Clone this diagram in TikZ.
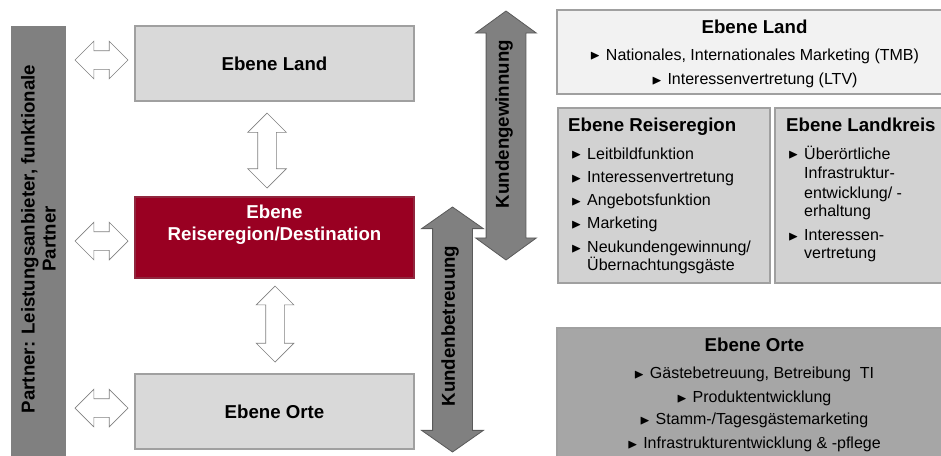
\documentclass[tikz,border=0pt]{standalone}
\usepackage{fontspec}
\setmainfont{Liberation Sans}
\usepackage{amssymb}
\usetikzlibrary{shapes.arrows,positioning}

\definecolor{ttred}{HTML}{990022}
\definecolor{ttlight}{HTML}{D9D9D9}
\definecolor{ttpale}{HTML}{F2F2F2}
\definecolor{ttmid}{HTML}{D2D2D2}
\definecolor{ttdark}{HTML}{A6A6A6}
\definecolor{ttgray}{HTML}{808080}
\definecolor{ttline}{HTML}{A0A0A0}
\definecolor{ttedge}{HTML}{5A5A5A}

\newcommand{\hdfont}{\fontsize{18.67}{21}\selectfont\bfseries}
\newcommand{\txfont}{\fontsize{16}{18.5}\selectfont}
\newcommand{\tri}{\makebox[16pt][l]{\raisebox{0.3pt}{\fontsize{13.5}{13.5}\selectfont$\blacktriangleright$}}}

\tikzset{level/.style={draw=ttline, line width=1.2pt, fill=ttlight, minimum width=279pt, minimum height=75pt, inner sep=0pt}}
\tikzset{panel/.style={draw=ttline, line width=1.2pt, inner sep=0pt}}
\tikzset{head/.style={font=\hdfont, align=center, inner sep=0pt}}
\tikzset{line/.style={font=\txfont, inner sep=0pt, anchor=base west}}
\tikzset{cline/.style={font=\txfont, inner sep=0pt, anchor=base}}
\tikzset{link/.style={double arrow, draw=gray, fill=white, line width=0.7pt, inner xsep=0pt, inner ysep=9pt, double arrow head extend=9.5pt, double arrow tip angle=90, minimum height=53pt, minimum width=37pt}}
\tikzset{flow/.style={double arrow, draw=ttedge, fill=ttgray, line width=0.8pt, inner xsep=0pt, inner ysep=19.5pt, double arrow head extend=10.5pt, double arrow tip angle=108, minimum width=60pt, rotate=90}}

\begin{document}
\begin{tikzpicture}[x=1pt, y=-1pt]
    \useasboundingbox (0,0) rectangle (941,455);
    \clip (0,0) rectangle (941,455);

    % partner bar
    \node[fill=ttgray, minimum width=55pt, minimum height=444pt, inner sep=0pt] (partner) at (38.5,248) {};
    \node[head, rotate=90] (partnertxt) at (38.5,239) {Partner: Leistungsanbieter, funktionale\\Partner};

    % levels
    \node[level] (landL) at (274.5,63.5) {};
    \node[level, fill=ttred, draw=ttred!70!gray, minimum height=81pt] (regionL) at (274.5,237.5) {};
    \node[level] (orteL) at (274.5,411.5) {};
    \node[head] (landtxt) at (landL.center) {Ebene Land};
    \node[head, text=white] (regiontxt) at (274.5,225) {Ebene\\[1pt]Reiseregion/Destination};
    \node[head] (ortetxt) at (orteL.center) {Ebene Orte};

    \node[link] (lland) at (101.5,60) {};
    \node[link] (lregion) at (101.5,241) {};
    \node[link] (lorte) at (101.5,408) {};
    \node[link, rotate=90, minimum height=75pt, minimum width=38pt, double arrow head extend=10pt] (vland) at (267,150.5) {};
    \node[link, rotate=90, minimum height=76pt, minimum width=37pt] (vorte) at (275,324) {};

    % customer arrows
    \node[flow, minimum height=245pt, minimum width=61pt, double arrow head extend=11pt, double arrow tip angle=110] (betreu) at (452.5,329.5) {};
    \node[head, rotate=90] (betreutxt) at (450,326) {Kundenbetreuung};
    \node[flow, minimum height=249pt] (gewinn) at (506,135.5) {};
    \node[head, rotate=90] (gewinntxt) at (504,124) {Kundengewinnung};

    % task panels
    \node[panel, fill=ttpale, minimum width=395pt, minimum height=84pt] (landR) at (754.5,52) {};
    \node[head, anchor=base] (landRt) at (754.5,33.4) {Ebene Land};
    \node[cline] (landR1) at (754.5,60.2) {\tri Nationales, Internationales Marketing (TMB)};
    \node[cline] (landR2) at (754.5,84.7) {\tri Interessenvertretung (LTV)};

    \node[panel, fill=ttmid, minimum width=212pt, minimum height=175pt] (reiseR) at (664,195.5) {};
    \node[head, anchor=base west] (reiseRt) at (568,131.7) {Ebene Reiseregion};
    \node[line] (reise1) at (571,159) {\tri Leitbildfunktion};
    \node[line] (reise2) at (571,182.5) {\tri Interessenvertretung};
    \node[line] (reise3) at (571,205.5) {\tri Angebotsfunktion};
    \node[line] (reise4) at (571,228.5) {\tri Marketing};
    \node[line] (reise5) at (571,252.5) {\tri Neukundengewinnung/};
    \node[line] (reise6) at (587,270.5) {Übernachtungsgäste};

    \node[panel, fill=ttmid, minimum width=177pt, minimum height=175pt] (kreisR) at (863.5,195.5) {};
    \node[head, anchor=base west] (kreisRt) at (786,131.7) {Ebene Landkreis};
    \node[line] (kreis1) at (788,159) {\tri Überörtliche};
    \node[line] (kreis2) at (804,178.2) {Infrastruktur-};
    \node[line] (kreis3) at (804,198.2) {entwicklung/ -};
    \node[line] (kreis4) at (804,216.5) {erhaltung};
    \node[line] (kreis5) at (788,240.5) {\tri Interessen-};
    \node[line] (kreis6) at (804,258.5) {vertretung};

    \node[panel, fill=ttdark, minimum width=395pt, minimum height=142pt] (orteR) at (754.5,399) {};
    \node[head, anchor=base] (orteRt) at (754.5,351.7) {Ebene Orte};
    \node[cline] (orte1) at (754,378.7) {\tri Gästebetreuung, Betreibung\ \ TI};
    \node[cline] (orte2) at (754,402.7) {\tri Produktentwicklung};
    \node[cline] (orte3) at (754,424.7) {\tri Stamm-/Tagesgästemarketing};
    \node[cline] (orte4) at (754,448.7) {\tri Infrastrukturentwicklung \& -pflege};
\end{tikzpicture}
\end{document}
